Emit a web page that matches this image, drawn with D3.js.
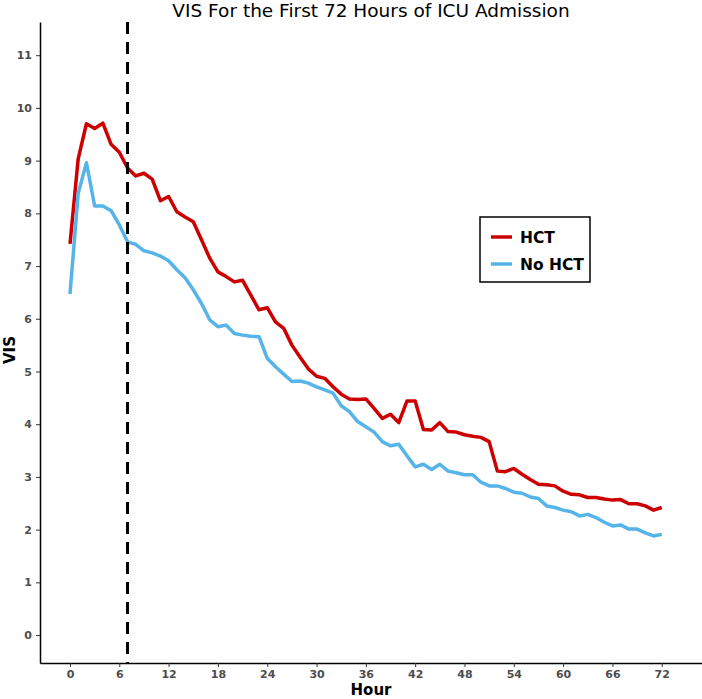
<!DOCTYPE html>
<html>
<head>
<meta charset="utf-8">
<script src="https://cdn.jsdelivr.net/npm/d3@7"></script>
<style>
  body { margin: 0; background: #fff; }
  text { font-family: "DejaVu Sans", sans-serif; }
  .tick text { font-weight: bold; fill: #4d4d4d; font-size: 11px; }
</style>
</head>
<body>
<div id="app"></div>
<script>
const hours = d3.range(0, 73);
const hct = [7.42, 9.04, 9.70, 9.61, 9.71, 9.31, 9.16, 8.86, 8.71, 8.76,
  8.65, 8.24, 8.32, 8.03, 7.93, 7.84, 7.50, 7.15, 6.89, 6.80,
  6.70, 6.73, 6.45, 6.17, 6.21, 5.94, 5.82, 5.50, 5.27, 5.05,
  4.91, 4.87, 4.71, 4.57, 4.48, 4.47, 4.48, 4.30, 4.11, 4.19,
  4.03, 4.44, 4.44, 3.90, 3.89, 4.03, 3.86, 3.85, 3.80, 3.77,
  3.75, 3.67, 3.11, 3.10, 3.16, 3.05, 2.95, 2.86, 2.85, 2.83,
  2.73, 2.67, 2.66, 2.61, 2.61, 2.58, 2.56, 2.57, 2.49, 2.49,
  2.45, 2.37, 2.42];
const noHct = [6.47, 8.38, 8.96, 8.14, 8.14, 8.05, 7.78, 7.46, 7.41, 7.29,
  7.25, 7.19, 7.10, 6.93, 6.78, 6.55, 6.29, 5.98, 5.85, 5.88,
  5.72, 5.69, 5.67, 5.66, 5.25, 5.09, 4.95, 4.81, 4.82, 4.78,
  4.71, 4.65, 4.59, 4.35, 4.24, 4.05, 3.95, 3.85, 3.67, 3.59,
  3.62, 3.40, 3.19, 3.24, 3.14, 3.24, 3.11, 3.08, 3.04, 3.04,
  2.90, 2.83, 2.83, 2.78, 2.71, 2.69, 2.62, 2.59, 2.45, 2.42,
  2.37, 2.34, 2.26, 2.29, 2.23, 2.14, 2.07, 2.09, 2.01, 2.01,
  1.94, 1.88, 1.91];
const xTicks = d3.range(0, 73, 6);
const yTicks = d3.range(0, 12);
const cutoffHour = 7;
const seriesNames = ['HCT', 'No HCT'];
const seriesColors = ['#cc0000', '#56b4e9'];

const width = 702, height = 699;
const margin = { left: 40, right: 0, top: 22, bottom: 36 };

const svg = d3.select('#app').append('svg').attr('width', width).attr('height', height);

const xScale = d3.scaleLinear([-3.65, 76.9], [margin.left, width - margin.right]);
const yScale = d3.scaleLinear([-0.53, 11.63], [height - margin.bottom, margin.top]);

// title
svg.append('text')
  .attr('x', 371).attr('y', 17)
  .attr('text-anchor', 'middle')
  .attr('font-size', 18.5)
  .text('VIS For the First 72 Hours of ICU Admission');

// axes
const xAxis = svg.append('g')
  .attr('transform', `translate(0, ${height - margin.bottom})`)
  .call(d3.axisBottom(xScale).tickValues(xTicks).tickSize(4).tickSizeOuter(0).tickPadding(3));
const yAxis = svg.append('g')
  .attr('transform', `translate(${margin.left}, 0)`)
  .call(d3.axisLeft(yScale).tickValues(yTicks).tickSize(4).tickSizeOuter(0).tickPadding(4));
[xAxis, yAxis].forEach(a => {
  a.select('.domain').attr('stroke', '#000').attr('stroke-width', 1.5);
  a.selectAll('.tick line').attr('stroke', '#333');
});

svg.append('text')
  .attr('x', 371).attr('y', 695)
  .attr('text-anchor', 'middle')
  .attr('font-size', 15).attr('font-weight', 'bold')
  .text('Hour');
svg.append('text')
  .attr('transform', `translate(15, ${350}) rotate(-90)`)
  .attr('text-anchor', 'middle')
  .attr('font-size', 15).attr('font-weight', 'bold')
  .text('VIS');

// lines
const line = d3.line().x((d, i) => xScale(hours[i])).y(d => yScale(d));
[hct, noHct].forEach((s, i) => {
  svg.append('path')
    .datum(s)
    .attr('fill', 'none')
    .attr('stroke', seriesColors[i])
    .attr('stroke-width', 3.5)
    .attr('stroke-linejoin', 'round')
    .attr('d', line);
});

// cutoff line
svg.append('line')
  .attr('x1', xScale(cutoffHour)).attr('x2', xScale(cutoffHour))
  .attr('y1', margin.top).attr('y2', height - margin.bottom)
  .attr('stroke', '#000').attr('stroke-width', 3)
  .attr('stroke-dasharray', '12,8');

// legend
const legend = svg.append('g').attr('transform', 'translate(480, 217)');
legend.append('rect')
  .attr('width', 110).attr('height', 65)
  .attr('fill', '#fff').attr('stroke', '#000').attr('stroke-width', 1.5);
seriesNames.forEach((name, i) => {
  const y = 20 + i * 27;
  legend.append('line')
    .attr('x1', 11).attr('x2', 32).attr('y1', y).attr('y2', y)
    .attr('stroke', seriesColors[i]).attr('stroke-width', 3.5);
  legend.append('text')
    .attr('x', 40).attr('y', y + 5.5)
    .attr('font-size', 15.5).attr('font-weight', 'bold')
    .text(name);
});
</script>
</body>
</html>
